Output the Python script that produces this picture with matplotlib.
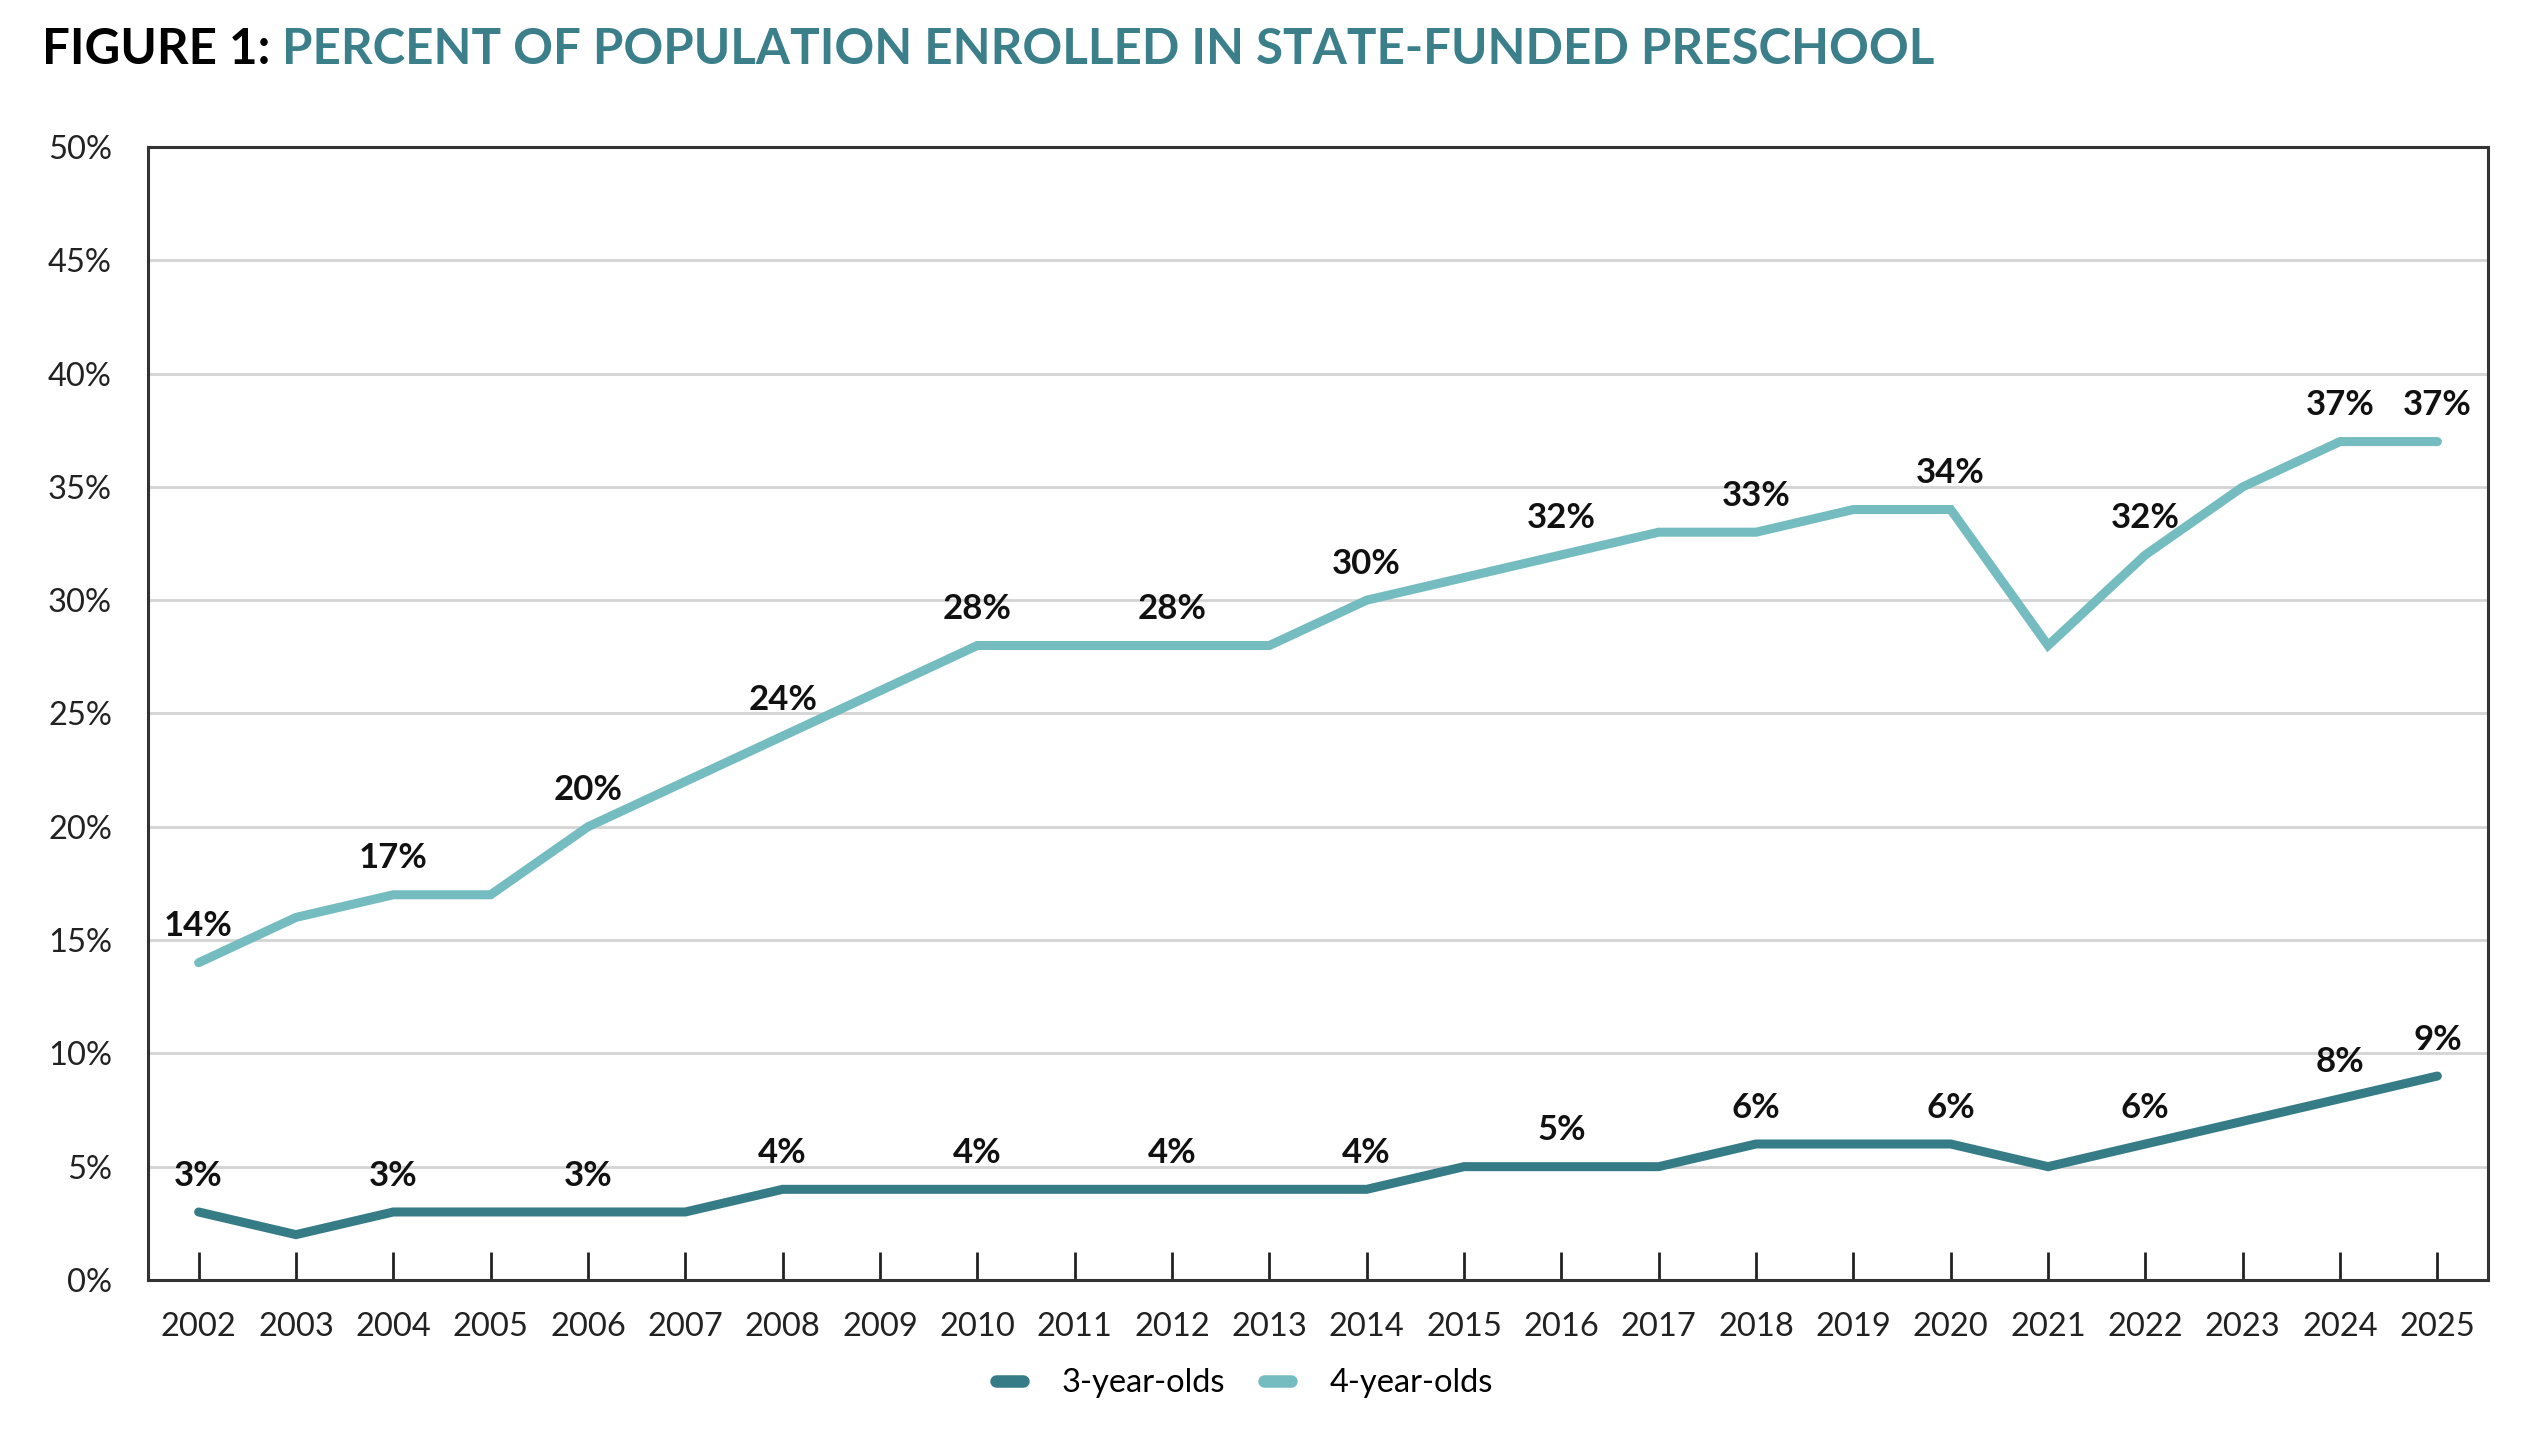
import matplotlib.pyplot as plt
import numpy as np

plt.rcParams['font.family'] = ['Lato', 'DejaVu Sans']

# data
years = [2002, 2003, 2004, 2005, 2006, 2007, 2008, 2009, 2010, 2011, 2012, 2013,
         2014, 2015, 2016, 2017, 2018, 2019, 2020, 2021, 2022, 2023, 2024, 2025]
three_yo = [3, 2, 3, 3, 3, 3, 4, 4, 4, 4, 4, 4, 4, 5, 5, 5, 6, 6, 6, 5, 6, 7, 8, 9]
four_yo = [14, 16, 17, 17, 20, 22, 24, 26, 28, 28, 28, 28, 30, 31, 32, 33, 33, 34, 34, 28, 32, 35, 37, 37]
labeled_years = [2002, 2004, 2006, 2008, 2010, 2012, 2014, 2016, 2018, 2020, 2022, 2024, 2025]
y_ticks = [0, 5, 10, 15, 20, 25, 30, 35, 40, 45, 50]

dark = "#367c87"
light = "#74bcc0"

fig = plt.figure(figsize=(25.3, 14.44), dpi=100)
ax = fig.add_axes([0.0585, 0.1136, 0.9249, 0.7846])

x = np.arange(len(years))
ax.plot(x, three_yo, color=dark, linewidth=6.5, solid_capstyle='round', solid_joinstyle='miter', label="3-year-olds", zorder=3)
ax.plot(x, four_yo, color=light, linewidth=6.5, solid_capstyle='round', solid_joinstyle='miter', label="4-year-olds", zorder=3)

for i, yr in enumerate(years):
    if yr in labeled_years:
        for series in (three_yo, four_yo):
            ax.annotate(f"{series[i]}%", (i, series[i]), xytext=(0, 19), textcoords="offset points",
                        ha="center", va="baseline", fontsize=25, fontweight="bold", color="#111111")

ax.set_xlim(-0.52, len(years) - 0.48)
ax.set_ylim(0, 50)
ax.set_xticks(x)
ax.set_xticklabels([str(y) for y in years])
ax.set_yticks(y_ticks)
ax.set_yticklabels([f"{v}%" for v in y_ticks])
ax.tick_params(axis="x", direction="in", length=20, width=2, color="#222222", pad=23, labelsize=23.5, labelcolor="#222222")
ax.tick_params(axis="y", length=0, pad=26, labelsize=23.5, labelcolor="#222222")
ax.grid(axis="y", color="#d4d4d4", linewidth=2)
ax.set_axisbelow(True)
for s in ax.spines.values():
    s.set_linewidth(2.2)
    s.set_color("#333333")

leg = fig.legend(loc="center", bbox_to_anchor=(0.492, 0.042), ncol=2, frameon=False,
                 fontsize=23.5, handlelength=0.8, handletextpad=1.2, columnspacing=1.2)
for line in leg.get_lines():
    line.set_linewidth(9)
    line.set_solid_capstyle('round')

t1 = fig.text(0.0166, 0.966, "FIGURE 1: ", fontsize=35.5, fontweight="bold", color="black", va="center", ha="left")
ax.annotate("PERCENT OF POPULATION ENROLLED IN STATE-FUNDED PRESCHOOL", xy=(1, 0.5), xycoords=t1,
            va="center", ha="left", fontsize=35.5, fontweight="bold", color="#3a7f8a", annotation_clip=False)

fig.savefig("out.png", dpi=100)
